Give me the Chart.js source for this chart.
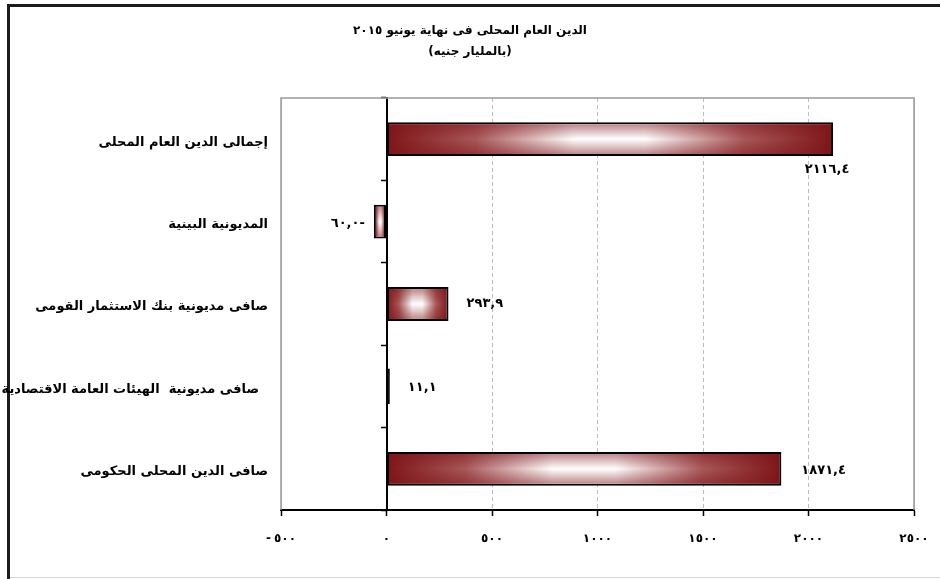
<!DOCTYPE html>
<html lang="ar">
<head>
<meta charset="utf-8">
<title>الدين العام المحلى</title>
<script src="https://cdn.jsdelivr.net/npm/chart.js@4.4.1/dist/chart.umd.min.js"></script>
<style>
    html, body { margin: 0; padding: 0; background: #fff; }
</style>
</head>
<body>
<canvas id="chart1" width="940" height="579"></canvas>
<script>
        // Data
        const titleLines = ['الدين العام المحلى فى نهاية يونيو ٢٠١٥', '(بالمليار جنيه)'];
        const categories = [
            'إجمالى الدين العام المحلى',
            'المديونية البينية',
            'صافى مديونية بنك الاستثمار القومى',
            'صافى مديونية  الهيئات العامة الاقتصادية  ',
            'صافى الدين المحلى الحكومى'
        ];
        const debtValues = [2116.4, -60.0, 293.9, 11.1, 1871.4];
        const valueLabels = ['٢١١٦,٤', '٦٠,٠-', '٢٩٣,٩', '١١,١', '١٨٧١,٤'];
        const xTickValues = [-500, 0, 500, 1000, 1500, 2000, 2500];
        const xTickLabels = ['-٥٠٠', '٠', '٥٠٠', '١٠٠٠', '١٥٠٠', '٢٠٠٠', '٢٥٠٠'];

        const darkRed = '#7e1518';
        const arFont = 'DejaVu Sans';

        function barFill(ctx) {    // horizontal dark - white - dark gradient along each bar
            const chart = ctx.chart;
            const xs = chart.scales.x;
            if (!xs || ctx.type !== 'data') return darkRed;
            const x0 = xs.getPixelForValue(0);
            const x1 = xs.getPixelForValue(ctx.raw);
            if (!Number.isFinite(x0) || !Number.isFinite(x1)) return darkRed;
            if (Math.abs(x1 - x0) < 5) return '#000';    // too thin for a gradient, shows as a black sliver
            const g = chart.ctx.createLinearGradient(x0, 0, x1, 0);
            g.addColorStop(0, darkRed);
            g.addColorStop(0.2, '#a8585a');
            g.addColorStop(0.42, '#ffffff');
            g.addColorStop(0.58, '#ffffff');
            g.addColorStop(0.8, '#a8585a');
            g.addColorStop(1, darkRed);
            return g;
        }

        const framePlugin = {
            id: 'frame',
            beforeDraw(chart) {
                const c = chart.ctx;
                c.letterSpacing = '0px';
                c.save();
                c.fillStyle = '#fff';
                c.fillRect(0, 0, chart.width, chart.height);
                c.strokeStyle = '#d4d4d4';
                c.lineWidth = 1;
                c.beginPath();
                c.moveTo(8, 577.5); c.lineTo(chart.width, 577.5);
                c.stroke();
                c.strokeStyle = '#1c1c1c';
                c.lineWidth = 3;
                c.beginPath();
                c.moveTo(8.5, chart.height); c.lineTo(8.5, 5.5); c.lineTo(chart.width, 5.5);
                c.stroke();
                c.restore();
            },
            beforeDatasetsDraw(chart) {    // plot area edges (top, left, right)
                const a = chart.chartArea;
                const c = chart.ctx;
                c.save();
                c.strokeStyle = '#9a9a9a';
                c.lineWidth = 1.5;
                c.beginPath();
                c.moveTo(a.left, a.bottom); c.lineTo(a.left, a.top);
                c.lineTo(a.right, a.top); c.lineTo(a.right, a.bottom);
                c.stroke();
                c.restore();
            },
            afterDraw(chart) {
                chart.ctx.letterSpacing = '0px';
            }
        };

        const barShadePlugin = {
            id: 'barShade',
            afterDatasetsDraw(chart) {    // darken top and bottom of each bar, labels
                const c = chart.ctx;
                const meta = chart.getDatasetMeta(0);
                const labelPlacement = [
                    { align: 'center', dx: -6, dy: 30 },
                    { align: 'right', dx: -7, dy: 2 },
                    { align: 'left', dx: 18, dy: 0 },
                    { align: 'left', dx: 19, dy: 1 },
                    { align: 'left', dx: 20, dy: 2 }
                ];
                c.save();
                c.letterSpacing = '2px';
                meta.data.forEach((bar, i) => {
                    const p = bar.getProps(['x', 'y', 'base', 'height'], true);
                    if (![p.x, p.y, p.base, p.height].every(Number.isFinite)) return;
                    const left = Math.min(p.x, p.base) + 2;
                    const right = Math.max(p.x, p.base) - 2;
                    const top = p.y - p.height / 2 + 2;
                    const bottom = p.y + p.height / 2 - 2;
                    if (right - left > 2) {
                        const g = c.createLinearGradient(0, top, 0, bottom);
                        g.addColorStop(0, 'rgba(126,21,24,0.5)');
                        g.addColorStop(0.5, 'rgba(126,21,24,0)');
                        g.addColorStop(1, 'rgba(126,21,24,0.5)');
                        c.fillStyle = g;
                        c.fillRect(left, top, right - left, bottom - top);
                    }
                    const pl = labelPlacement[i];
                    c.fillStyle = '#000';
                    c.font = 'bold 13px "' + arFont + '"';
                    c.textAlign = pl.align;
                    c.textBaseline = 'middle';
                    c.fillText(valueLabels[i], p.x + pl.dx, p.y + pl.dy);
                });
                c.restore();
                c.letterSpacing = '3px';    // spaced digits for the x tick labels drawn next
            }
        };

        const ctx = document.getElementById('chart1').getContext('2d');
        const chart = new Chart(ctx, {
            type: 'bar',
            data: {
                labels: categories,
                datasets: [{
                    data: debtValues,
                    backgroundColor: barFill,
                    borderColor: '#000',
                    borderWidth: 2,
                    borderSkipped: false,
                    inflateAmount: c => (Math.abs(c.raw) < 50 ? 1 : 'auto'),   // keep the tiny bar visible
                    barPercentage: 0.41,
                    categoryPercentage: 1
                }]
            },
            options: {
                indexAxis: 'y',
                responsive: false,
                animation: false,
                layout: { padding: 0 },
                plugins: {
                    legend: { display: false },
                    tooltip: { enabled: false },
                    title: {
                        display: true,
                        text: titleLines,
                        color: '#000',
                        font: { family: arFont, size: 12, weight: 'bold', lineHeight: 1.75 },
                        padding: { top: 20, bottom: 36 }
                    }
                },
                scales: {
                    x: {
                        min: -500,
                        max: 2500,
                        ticks: {
                            stepSize: 500,
                            color: '#000',
                            padding: 3,
                            z: 1,
                            font: { family: arFont, size: 12, weight: 'bold', lineHeight: 3.3 },
                            callback: v => xTickLabels[xTickValues.indexOf(v)]
                        },
                        grid: {
                            color: c => (c.tick && c.tick.value === 0) ? 'transparent' : '#bdbdbd',
                            lineWidth: 1,
                            drawTicks: true,
                            tickLength: 6,
                            tickColor: '#000',
                            tickWidth: 1.5
                        },
                        border: {
                            color: '#000',
                            width: 2,
                            dash: c => (c.tick && c.tick.value > -500 && c.tick.value < 2500) ? [4, 3] : []
                        },
                        afterFit: s => { s.height = 69; }
                    },
                    y: {
                        position: 'left',
                        grid: { display: false, drawTicks: false },
                        border: { display: false },
                        ticks: {
                            color: '#000',
                            padding: 13,
                            labelOffset: 3,
                            font: { family: arFont, size: 13, weight: 'bold' }
                        },
                        afterFit: s => { s.width = 281; }
                    },
                    yPad: {    // empty right-hand box so the plot ends where the reference does
                        type: 'category',
                        axis: 'y',
                        position: 'right',
                        grid: { display: false, drawTicks: false },
                        border: { display: false },
                        ticks: { display: false },
                        afterFit: s => { s.width = 26; }
                    },
                    y2: {
                        type: 'category',
                        position: { x: 0 },
                        offset: true,
                        grid: {
                            offset: true,
                            drawOnChartArea: false,
                            drawTicks: true,
                            tickLength: 5,
                            tickColor: '#000',
                            tickWidth: 1.5,
                            color: '#000'
                        },
                        ticks: { display: false },
                        border: { display: true, color: '#000', width: 2 }
                    }
                }
            },
            plugins: [framePlugin, barShadePlugin]
        });
</script>
</body>
</html>
